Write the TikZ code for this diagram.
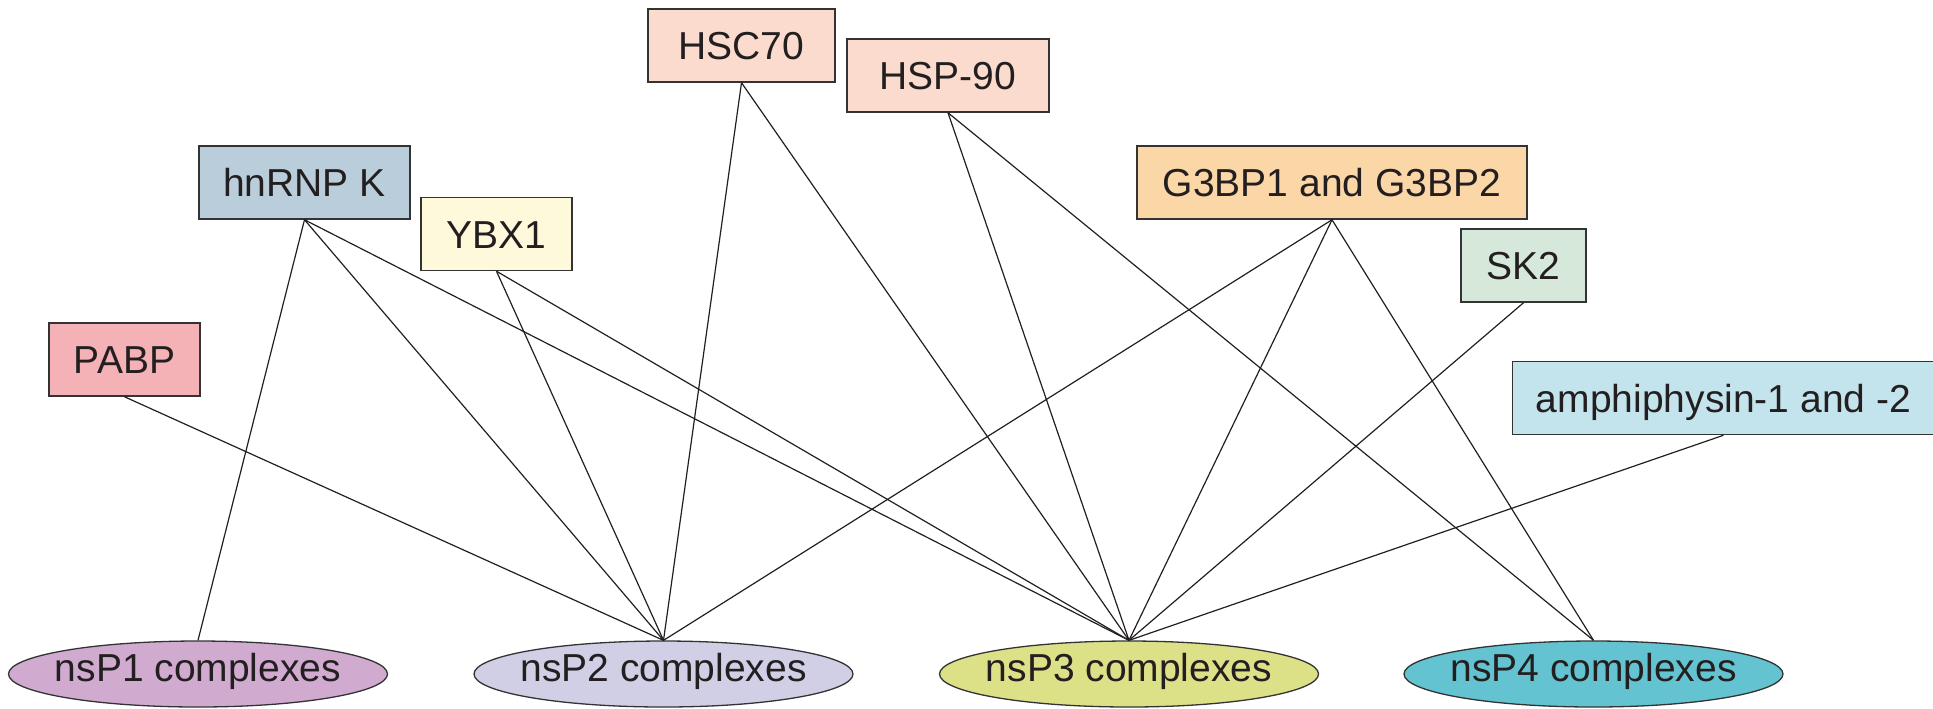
\documentclass[tikz,border=0pt]{standalone}
\usepackage{fontspec}
\setmainfont{Liberation Sans}
\usetikzlibrary{shapes.geometric}

\definecolor{ink}{HTML}{231F20}
\definecolor{edgegray}{HTML}{333333}
\definecolor{pabpfill}{HTML}{F4B1B6}
\definecolor{hnrnpfill}{HTML}{B9CDDB}
\definecolor{ybxfill}{HTML}{FFF9DC}
\definecolor{hspfill}{HTML}{FADBCD}
\definecolor{gbpfill}{HTML}{FBD6A6}
\definecolor{skfill}{HTML}{D5E8DA}
\definecolor{amphfill}{HTML}{C3E4EC}
\definecolor{nspa}{HTML}{D1AAD0}
\definecolor{nspb}{HTML}{D1CFE6}
\definecolor{nspc}{HTML}{DCE087}
\definecolor{nspd}{HTML}{64C3D0}

% label of zero width, so the ellipse keeps its fixed size
\newcommand{\cplx}[1]{\makebox[0pt]{#1}}

\begin{document}
\begin{tikzpicture}[x=0.5pt,y=-0.5pt,
  protein/.style={rectangle, draw=edgegray, line width=0.75pt, inner sep=0pt,
    text=ink, font=\fontsize{19.5}{23}\selectfont,
    text height=14pt, text depth=0pt, minimum height=36.5pt},
  complex/.style={ellipse, draw=edgegray, line width=0.65pt, inner sep=0pt,
    text=ink, font=\fontsize{19.5}{23}\selectfont,
    text height=14pt, text depth=6.5pt,
    minimum width=189.5pt, minimum height=33pt},
  link/.style={draw=ink, line width=0.6pt}]

\useasboundingbox (0,0) rectangle (1933,708);

% interacting host proteins
\node[protein, fill=pabpfill,  minimum width=75.5pt]  (pabp)  at (124.5,359.5) {PABP};
\node[protein, fill=hnrnpfill, minimum width=105.5pt] (hnrnp) at (304.5,182.5) {hnRNP K};
\node[protein, fill=ybxfill,   minimum width=75.5pt]  (ybx)   at (496.5,234)   {YBX1};
\node[protein, fill=hspfill,   minimum width=93.5pt]  (hsc)   at (741.5,45.5)  {HSC70};
\node[protein, fill=hspfill,   minimum width=101pt]   (hsp)   at (948,75.5)    {HSP-90};
\node[protein, fill=gbpfill,   minimum width=195pt]   (gbp)   at (1332,182.5)  {G3BP1 and G3BP2};
\node[protein, fill=skfill,    minimum width=62.5pt]  (sk)    at (1523.5,265.5) {SK2};
\node[protein, fill=amphfill,  minimum width=211pt]   (amph)  at (1723.5,398)  {amphiphysin-1 and -2};

% viral nonstructural protein complexes
\node[complex, fill=nspa] (n1) at (198,674)    {\cplx{nsP1 complexes}};
\node[complex, fill=nspb] (n2) at (663.5,674)  {\cplx{nsP2 complexes}};
\node[complex, fill=nspc] (n3) at (1129,674)   {\cplx{nsP3 complexes}};
\node[complex, fill=nspd] (n4) at (1593.5,674) {\cplx{nsP4 complexes}};

% interactions
\draw[link] (pabp.south)  -- (n2.north);
\draw[link] (hnrnp.south) -- (n1.north);
\draw[link] (hnrnp.south) -- (n2.north);
\draw[link] (hnrnp.south) -- (n3.north);
\draw[link] (ybx.south)   -- (n2.north);
\draw[link] (ybx.south)   -- (n3.north);
\draw[link] (hsc.south)   -- (n2.north);
\draw[link] (hsc.south)   -- (n3.north);
\draw[link] (hsp.south)   -- (n3.north);
\draw[link] (hsp.south)   -- (n4.north);
\draw[link] (gbp.south)   -- (n2.north);
\draw[link] (gbp.south)   -- (n3.north);
\draw[link] (gbp.south)   -- (n4.north);
\draw[link] (sk.south)    -- (n3.north);
\draw[link] (amph.south)  -- (n3.north);
\end{tikzpicture}
\end{document}
